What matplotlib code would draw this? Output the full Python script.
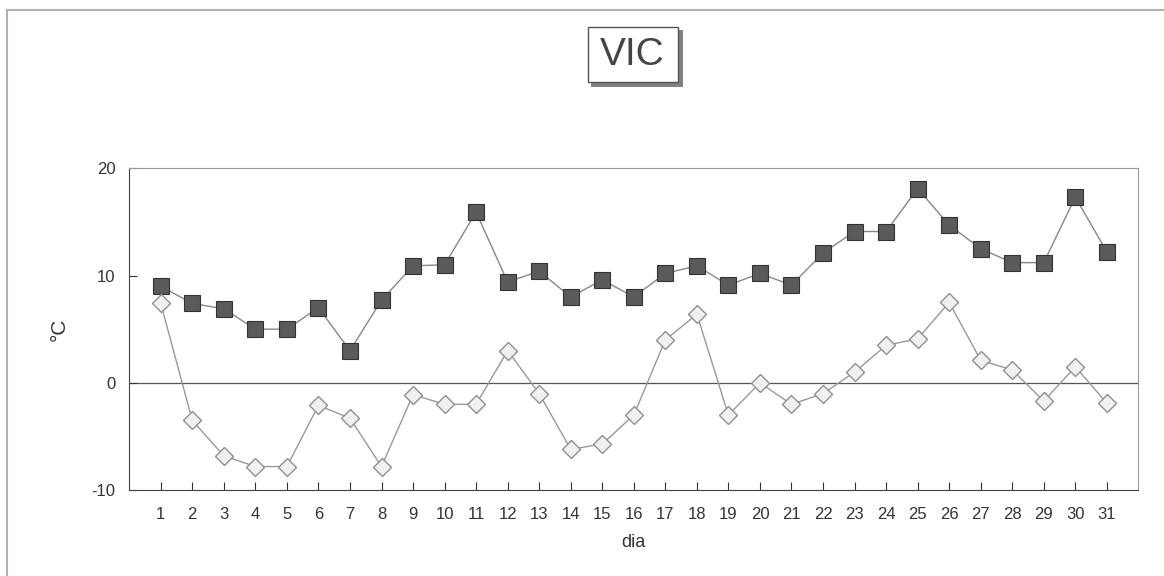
import matplotlib
matplotlib.use("Agg")
import matplotlib.pyplot as plt
from matplotlib.patches import Rectangle
from matplotlib.lines import Line2D

# daily max / min temperatures (°C), VIC
days = list(range(1, 32))
t_max = [9.0, 7.4, 6.9, 5.0, 5.0, 7.0, 3.0, 7.7, 10.9, 11.0, 15.9, 9.4, 10.4, 8.0, 9.6, 8.0,
         10.2, 10.9, 9.1, 10.2, 9.1, 12.1, 14.1, 14.1, 18.1, 14.7, 12.5, 11.2, 11.2, 17.3, 12.2]
t_min = [7.4, -3.5, -6.8, -7.8, -7.8, -2.1, -3.3, -7.8, -1.1, -2.0, -2.0, 3.0, -1.0, -6.2, -5.7, -3.0,
         4.0, 6.4, -3.0, 0.0, -2.0, -1.0, 1.0, 3.5, 4.1, 7.5, 2.1, 1.2, -1.7, 1.5, -1.9]
yticks = [-10, 0, 10, 20]

plt.rcParams['font.family'] = ['Liberation Sans', 'DejaVu Sans']
plt.rcParams['axes.unicode_minus'] = False

W, H = 1164, 576
fig = plt.figure(figsize=(W / 100, H / 100), dpi=100)
ax = fig.add_axes([0.111, 0.149, 0.867, 0.559])


def px(x, y):
    # pixel position (from top-left) -> figure fraction
    return x / W, 1 - y / H


# figure frame: only left and top edges visible
fig.lines.append(Line2D([px(7, 0)[0], px(7, 0)[0]], [0, px(0, 10)[1]], transform=fig.transFigure,
                        color='#b0b0b0', linewidth=1.5))
fig.lines.append(Line2D([px(7, 0)[0], 1], [px(0, 10)[1], px(0, 10)[1]], transform=fig.transFigure,
                        color='#b0b0b0', linewidth=1.5))

ax.axhline(0, color='#555555', linewidth=0.9, zorder=1)
ax.plot(days, t_max, color='#888888', linewidth=1.0, marker='s', markersize=11.5,
        markerfacecolor='#5a5a5a', markeredgecolor='#333333', markeredgewidth=0.8, zorder=3)
ax.plot(days, t_min, color='#999999', linewidth=1.0, marker='D', markersize=9,
        markerfacecolor='#f0f0f0', markeredgecolor='#909090', markeredgewidth=1.0, zorder=3)

ax.set_xlim(0, 32)
ax.set_ylim(-10, 20)
ax.set_xticks(days)
ax.set_yticks(yticks)
ax.tick_params(axis='both', direction='in', labelsize=12, colors='#333333', length=6)
ax.tick_params(axis='x', pad=12)
ax.tick_params(axis='y', pad=10)
for side in ['left', 'bottom']:
    ax.spines[side].set_color('#444444')
for side in ['top', 'right']:
    ax.spines[side].set_color('#999999')

ax.set_xlabel('dia', fontsize=13, color='#333333', labelpad=9)
ax.set_ylabel('°C', fontsize=15, color='#333333', labelpad=16)

# title in a box with shadow
x0, y0 = px(588, 82)
x1, y1 = px(678, 27)
fig.patches.append(Rectangle((px(591, 0)[0], px(0, 87)[1]), px(683, 0)[0] - px(591, 0)[0],
                             px(0, 82)[1] - px(0, 87)[1], transform=fig.transFigure,
                             facecolor='#808080', edgecolor='none'))
fig.patches.append(Rectangle((px(678, 0)[0], px(0, 87)[1]), px(683, 0)[0] - px(678, 0)[0],
                             px(0, 30)[1] - px(0, 87)[1], transform=fig.transFigure,
                             facecolor='#808080', edgecolor='none'))
fig.patches.append(Rectangle((x0, y0), x1 - x0, y1 - y0, transform=fig.transFigure,
                             facecolor='white', edgecolor='#555555', linewidth=1.0))
tx, ty = px(632, 55)
fig.text(tx, ty, 'VIC', fontsize=28, color='#444444', ha='center', va='center')

fig.savefig('out.png', dpi=100)
